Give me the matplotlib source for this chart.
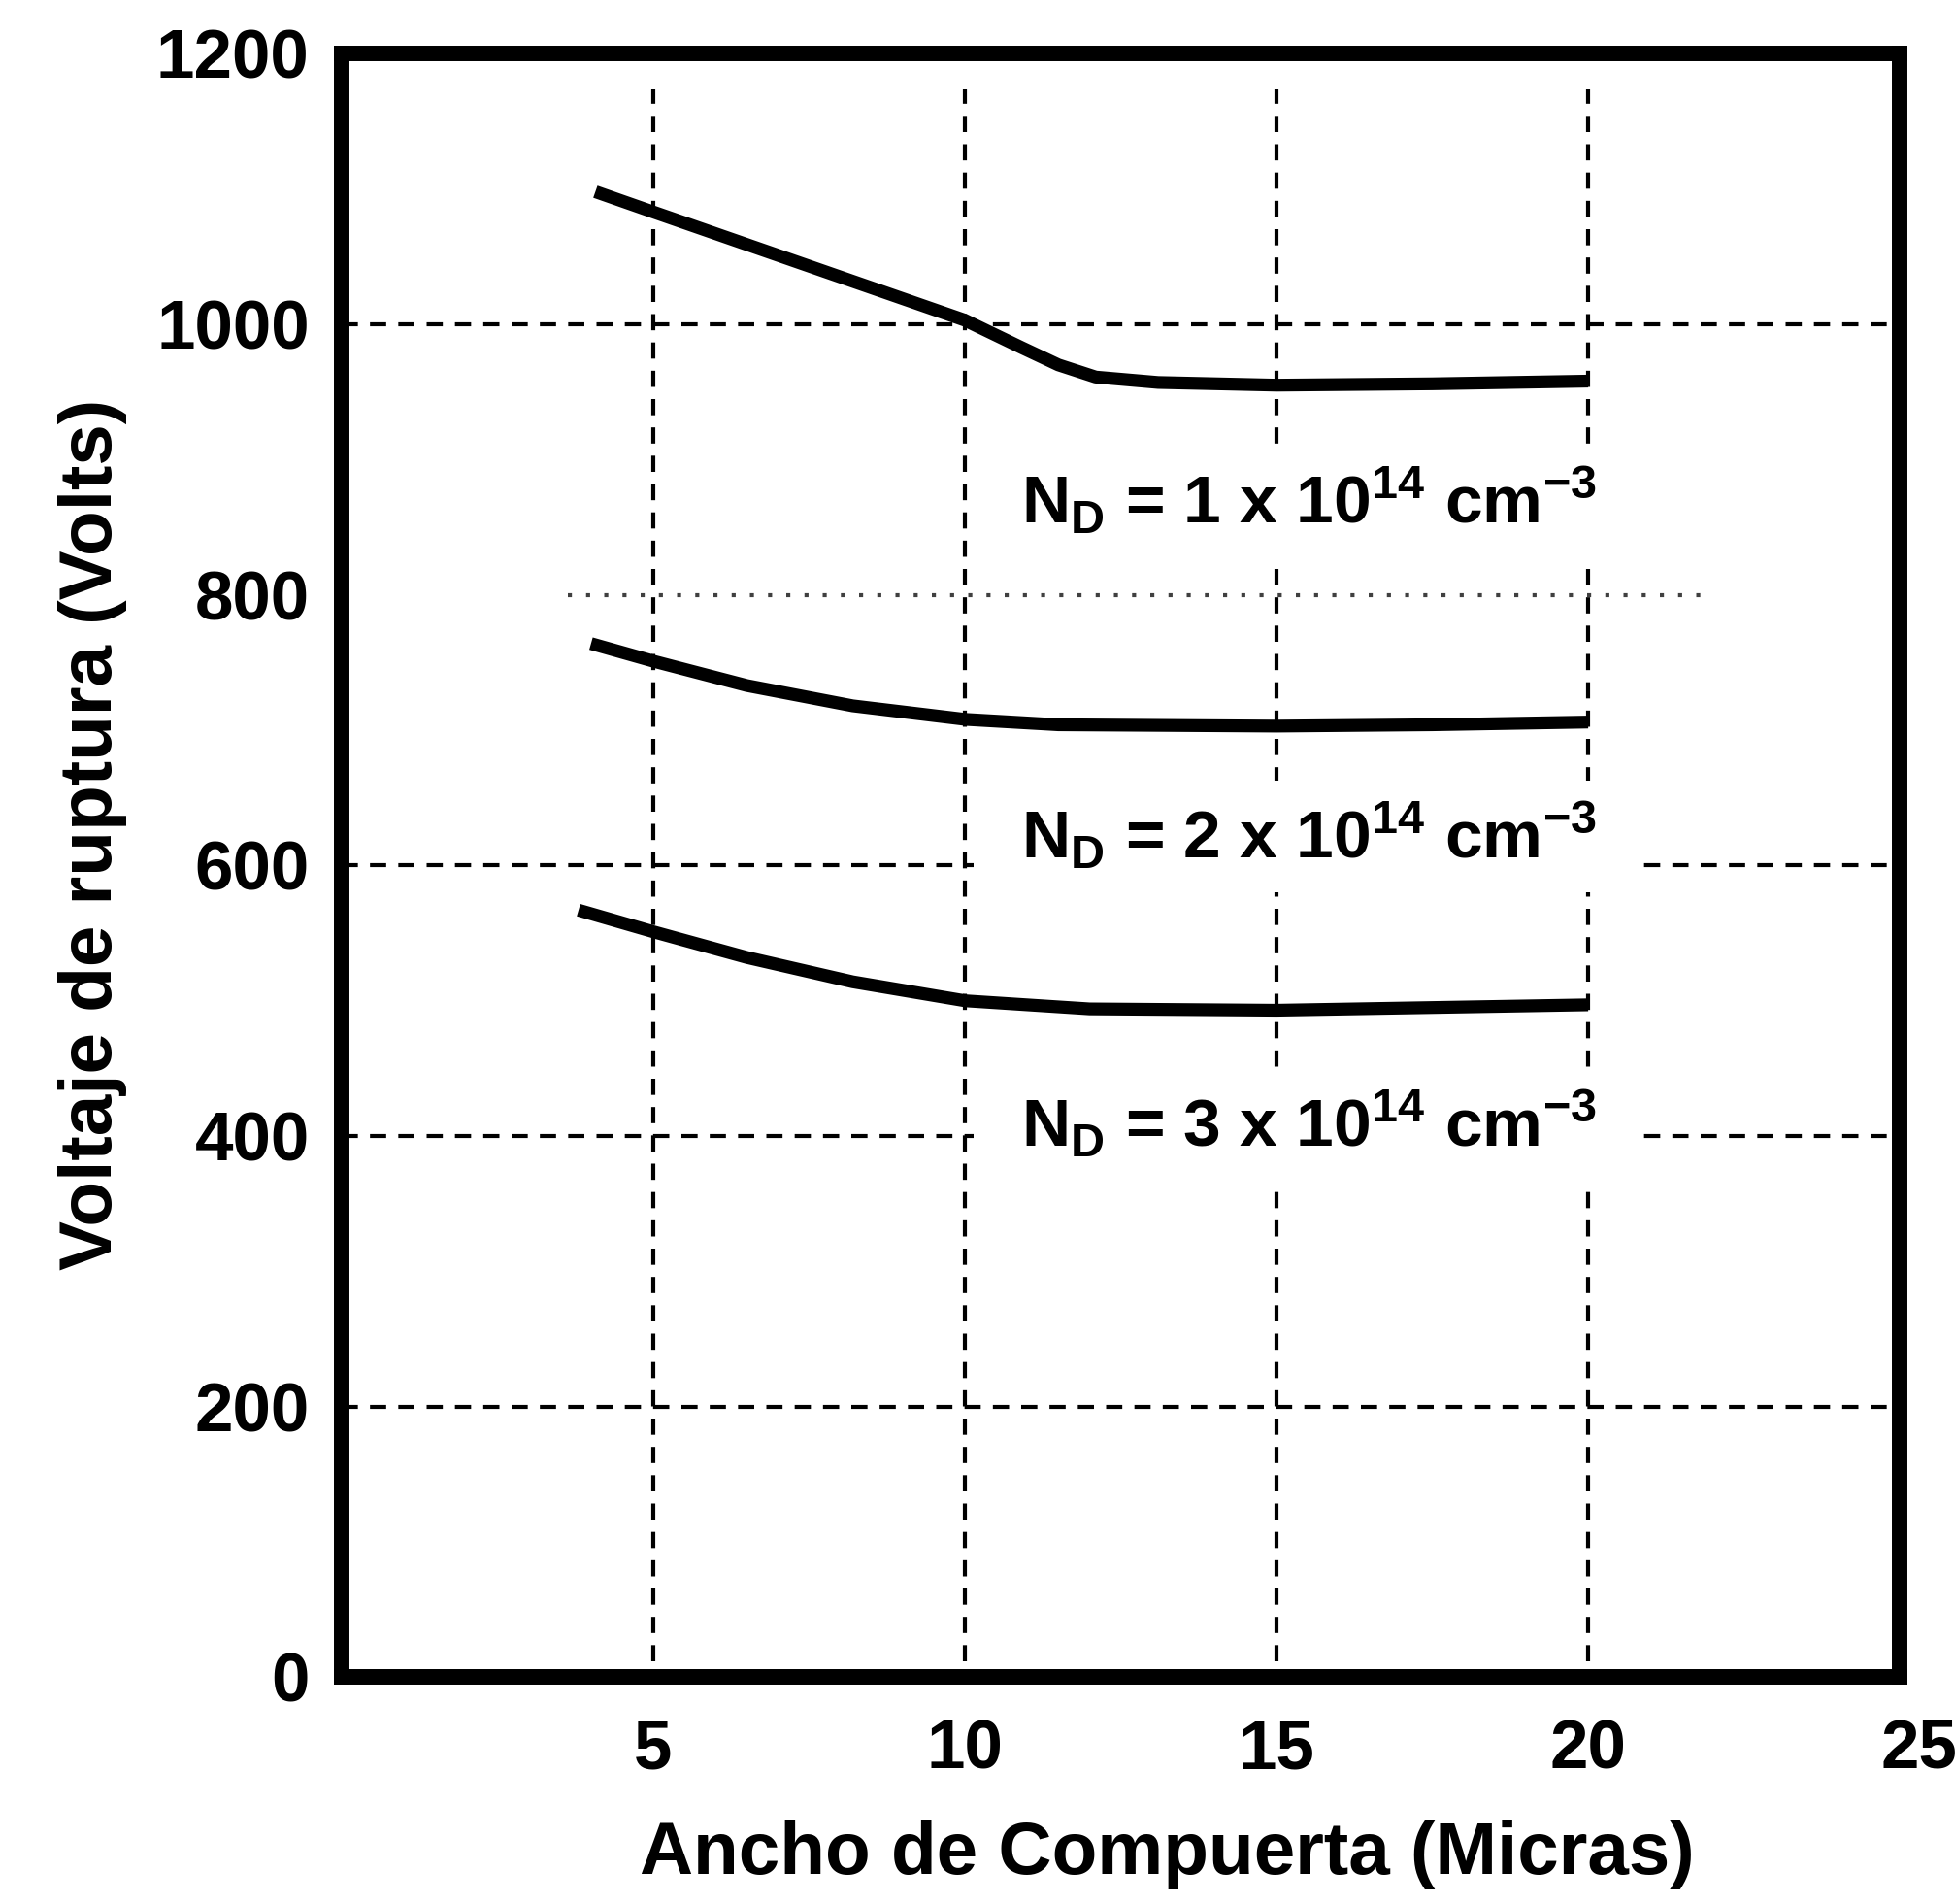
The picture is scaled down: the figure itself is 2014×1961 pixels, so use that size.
import matplotlib as mpl
import matplotlib.pyplot as plt
import matplotlib.transforms as mtransforms
from matplotlib.path import Path

mpl.rcParams['font.family'] = 'Liberation Sans'
mpl.rcParams['font.weight'] = 'bold'
mpl.rcParams['mathtext.fontset'] = 'custom'
mpl.rcParams['mathtext.rm'] = 'Liberation Sans:bold'
mpl.rcParams['mathtext.it'] = 'Liberation Sans:bold'
mpl.rcParams['mathtext.bf'] = 'Liberation Sans:bold'
mpl.rcParams['mathtext.sf'] = 'Liberation Sans:bold'
mpl.rcParams['mathtext.default'] = 'rm'

# gate width (microns) vs breakdown voltage (V)
x1 = [4.07, 5, 6.5, 8, 10, 10.9, 11.5, 12.1, 13.1, 15, 17.5, 20]
v1 = [1098, 1083, 1059, 1035, 1003, 983, 970, 961, 957, 955, 956, 958]

x2 = [4.0, 5, 6.5, 8.2, 10, 11.5, 15, 17.5, 20]
v2 = [764, 751, 733, 718, 708, 704, 703, 704, 706]

x3 = [3.8, 5, 6.5, 8.2, 10, 12, 15, 17.5, 20]
v3 = [567, 551, 532, 514, 500, 494, 493, 495, 497]

labels = [r'N$_{\mathrm{D}}$ = 1 x 10$^{14}$ cm$^{-3}$',
          r'N$_{\mathrm{D}}$ = 2 x 10$^{14}$ cm$^{-3}$',
          r'N$_{\mathrm{D}}$ = 3 x 10$^{14}$ cm$^{-3}$']
label_x = 10.9
label_y = [853, 605, 392]

xticks = [5, 10, 15, 20, 25]
yticks = [0, 200, 400, 600, 800, 1000, 1200]


def wide_box(x0, y0, width, height, mutation_size):
    # white patch behind the labels: wide sideways, tighter above/below
    px = 0.7 * mutation_size
    py = 0.3 * mutation_size
    xa, xb = x0 - px, x0 + width + px
    ya, yb = y0 - py, y0 + height + py
    return Path([(xa, ya), (xb, ya), (xb, yb), (xa, yb), (xa, ya)], closed=True)


fig = plt.figure(figsize=(20.14, 19.61), dpi=100)
ax = fig.add_axes([0.1748, 0.1191, 0.7969, 0.8527])

ax.set_xlim(0, 25)
ax.set_ylim(0, 1200)
ax.set_xticks(xticks)
ax.set_yticks(yticks)
ax.tick_params(length=0, labelsize=51)
ax.tick_params(axis='x', pad=31)
ax.tick_params(axis='y', pad=24)

for s in ax.spines.values():
    s.set_linewidth(11.5)

ax.grid(True, color='black', linewidth=3, linestyle=(0, (4, 3)))
ax.set_axisbelow(True)
for gl in ax.xaxis.get_gridlines():
    gl.set_ydata([0.01, 0.978])
# the 800 V line is only faintly printed in the original
ax.yaxis.get_gridlines()[4].set_visible(False)
ax.axhline(800, xmin=0.145, xmax=0.873, color='0.25', linewidth=3,
           linestyle=(0, (1, 3.5)), zorder=0.5)

for xs, vs in [(x1, v1), (x2, v2), (x3, v3)]:
    ax.plot(xs, vs, color='black', linewidth=9.5, solid_capstyle='butt',
            solid_joinstyle='round', zorder=3)

for lab, ly in zip(labels, label_y):
    ax.text(label_x, ly, lab, fontsize=50, ha='left', va='baseline',
            zorder=2, bbox=dict(boxstyle=wide_box, fc='white', ec='none'))

ax.set_xlabel('Ancho de Compuerta (Micras)', fontsize=55, fontweight='bold')
ax.set_ylabel('Voltaje de ruptura (Volts)', fontsize=55, fontweight='bold')
ax.xaxis.set_label_coords(0.530, -0.088)
ax.yaxis.set_label_coords(-0.138, 0.519)

# "25" sits a little to the right of the corner in the original
lab25 = ax.get_xticklabels()[-1]
lab25.set_transform(lab25.get_transform() +
                    mtransforms.ScaledTranslation(0.2, 0, fig.dpi_scale_trans))

fig.savefig('out.png', dpi=100, facecolor='white')
